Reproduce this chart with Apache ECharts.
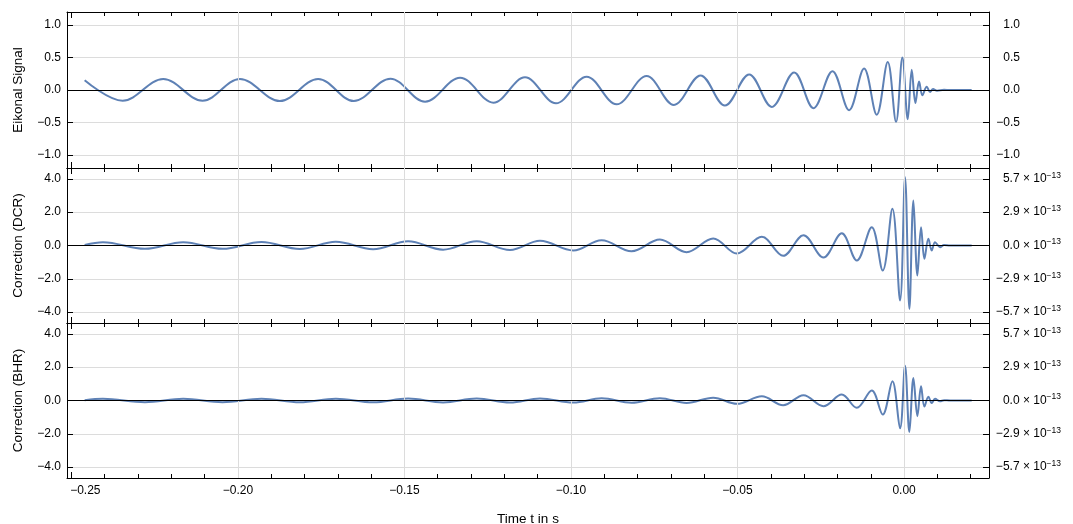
<!DOCTYPE html>
<html><head><meta charset="utf-8">
<script src="https://cdn.jsdelivr.net/npm/echarts@6/dist/echarts.min.js"></script>
<style>html,body{margin:0;padding:0;background:#fff}#c{width:1073px;height:524px}</style>
</head><body><div id="c"></div>
<script>
// Eikonal signal: times (s) of its maxima/minima, plus the flat tail
const tEik = [-0.2460,-0.2346,-0.2224,-0.2106,-0.1994,-0.1874,-0.1759,-0.1652,-0.1542,-0.1438,
  -0.1333,-0.1233,-0.1138,-0.1045,-0.0953,-0.0863,-0.0773,-0.0691,-0.0611,-0.0538,
  -0.0465,-0.0397,-0.0330,-0.0272,-0.0215,-0.0165,-0.0120,-0.0082,-0.0049,-0.0024,
  -0.0005,0.0011,0.0023,0.0034,0.0045,0.0055,0.0068,0.0078,0.0087,0.0099,
  0.0120,0.0138,0.0203];
const eikonal = [0.15,-0.165,0.17,-0.165,0.17,-0.17,0.17,-0.17,0.175,-0.18,
  0.19,-0.195,0.195,-0.205,0.205,-0.22,0.215,-0.23,0.225,-0.24,
  0.24,-0.26,0.27,-0.28,0.29,-0.31,0.33,-0.38,0.43,-0.49,
  0.5,-0.45,0.31,-0.2,0.13,-0.08,0.05,-0.03,0.015,-0.01,
  0.003,0,0];
// Corrections: times (s) of their maxima/minima (shared by DCR and BHR)
const tCorr = [-0.2460,-0.2405,-0.2279,-0.2164,-0.2046,-0.1929,-0.1814,-0.1706,-0.1594,-0.1489,-0.1384,
  -0.1283,-0.1183,-0.1093,-0.0993,-0.0908,-0.0818,-0.0733,-0.0653,-0.0573,-0.0502,
  -0.0427,-0.0363,-0.0302,-0.0242,-0.0187,-0.0142,-0.0097,-0.0064,-0.0035,-0.0012,
  0.0003,0.0016,0.0028,0.0040,0.0051,0.0061,0.0073,0.0083,0.0093,0.0108,
  0.0120,0.0138,0.0203];
const corrDCR = [0.03,0.2,-0.2,0.2,-0.2,0.21,-0.21,0.22,-0.22,0.25,-0.25,
  0.26,-0.27,0.28,-0.3,0.31,-0.34,0.36,-0.4,0.42,-0.48,
  0.52,-0.62,0.62,-0.72,0.74,-0.9,1.1,-1.5,2.2,-3.3,
  4.1,-3.8,2.7,-1.8,1.1,-0.8,0.4,-0.3,0.2,-0.1,
  0.03,0,0];
const corrBHR = [0.02,0.1,-0.1,0.1,-0.1,0.105,-0.105,0.11,-0.11,0.115,-0.115,
  0.12,-0.12,0.125,-0.125,0.13,-0.135,0.14,-0.15,0.17,-0.2,
  0.25,-0.28,0.32,-0.34,0.36,-0.44,0.6,-0.84,1.15,-1.67,
  2.09,-1.89,1.35,-0.94,0.85,-0.36,0.22,-0.15,0.1,-0.05,
  0.02,0,0];

const xTicks = [-0.25,-0.2,-0.15,-0.1,-0.05,0];
const xTickLabels = ['−0.25','−0.20','−0.15','−0.10','−0.05','0.00'];
const gridX = [-0.2,-0.15,-0.1,-0.05,0];
const eikTicks = [-1,-0.5,0,0.5,1];
const eikLabels = ['−1.0','−0.5','0.0','0.5','1.0'];
const corrTicks = [-4,-2,0,2,4];
const corrLabels = ['−4.0','−2.0','0.0','2.0','4.0'];
const corrRightLabels = ['−5.7','−2.9','0.0','2.9','5.7'];
const panelNames = ['Eikonal Signal','Correction (DCR)','Correction (BHR)'];

const FONT = 'Liberation Sans, Arial, Helvetica, sans-serif';
const BLUE = '#5e81b5';
const X_MIN = -0.2513, X_MAX = 0.0255;

function lookup(ticks, labels) {
  return v => { const i = ticks.findIndex(t => Math.abs(t - v) < 1e-6); return i < 0 ? '' : labels[i]; };
}
function xLabel(v) {
  const s = lookup(xTicks, xTickLabels)(v);
  if (!s) return '';
  return Math.abs(v - xTicks[0]) < 1e-6 ? '{first|' + s + '}' : s;
}

const grids = [
  {left: 67, width: 922, top: 12, height: 156, containLabel: false, outerBoundsMode: 'none'},
  {left: 67, width: 922, top: 168, height: 155, containLabel: false, outerBoundsMode: 'none'},
  {left: 67, width: 922, top: 323, height: 155, containLabel: false, outerBoundsMode: 'none'}
];
const yRanges = [[-1.2, 1.2, 0.5], [-4.65, 4.65, 2], [-4.65, 4.65, 2]];
const panelSeries = [[tEik, eikonal], [tCorr, corrDCR], [tCorr, corrBHR]];

const xAxes = [], yAxes = [], series = [];
grids.forEach((g, gi) => {
  const isLast = gi === 2;
  xAxes.push({
    type: 'value', gridIndex: gi, position: 'bottom', min: X_MIN, max: X_MAX,
    minInterval: 0.05, maxInterval: 0.05,
    axisLine: {show: true, onZero: false, lineStyle: {color: '#000', width: 1}},
    axisTick: {show: true, inside: true, length: 6, lineStyle: {color: '#000'}},
    axisLabel: {show: isLast, margin: 7, color: '#000', fontSize: 12, fontFamily: FONT,
      formatter: xLabel,
      rich: {first: {fontSize: 12, fontFamily: FONT, color: '#000', padding: [0, 0, 0, 28]}}},
    splitLine: {show: false},
    name: isLast ? 'Time t in s' : '', nameLocation: 'middle', nameGap: 34,
    nameTextStyle: {color: '#000', fontSize: 13.5, fontFamily: FONT}
  });
  xAxes.push({
    type: 'value', gridIndex: gi, position: 'top', min: X_MIN, max: X_MAX,
    minInterval: 0.05, maxInterval: 0.05,
    axisLine: {show: true, onZero: false, lineStyle: {color: '#000', width: 1}},
    axisTick: {show: true, inside: true, length: 6, lineStyle: {color: '#000'}},
    axisLabel: {show: false}, splitLine: {show: false}
  });
  ['top', 'bottom'].forEach(pos => xAxes.push({
    type: 'value', gridIndex: gi, position: pos, min: X_MIN, max: X_MAX,
    minInterval: 0.01, maxInterval: 0.01,
    axisLine: {show: false, onZero: false},
    axisTick: {show: true, inside: true, length: 4, lineStyle: {color: '#000'}},
    axisLabel: {show: false}, splitLine: {show: false}
  }));
  const [ymin, ymax, yint] = yRanges[gi];
  const ticks = gi === 0 ? eikTicks : corrTicks;
  const labels = gi === 0 ? eikLabels : corrLabels;
  yAxes.push({
    type: 'value', gridIndex: gi, position: 'left', min: ymin, max: ymax,
    minInterval: yint, maxInterval: yint,
    axisLine: {show: true, onZero: false, lineStyle: {color: '#000', width: 1}},
    axisTick: {show: true, inside: true, length: 6, lineStyle: {color: '#000'}},
    axisLabel: {margin: 6, color: '#000', fontSize: 12, fontFamily: FONT, formatter: lookup(ticks, labels)},
    splitLine: {show: true, lineStyle: {color: '#dcdcdc', width: 1}},
    name: panelNames[gi], nameLocation: 'middle', nameGap: 42,
    nameTextStyle: {color: '#000', fontSize: 13.5, fontFamily: FONT}
  });
  const rightLabel = gi === 0
    ? {margin: 31, align: 'right', color: '#000', fontSize: 12, fontFamily: FONT, formatter: lookup(eikTicks, eikLabels)}
    : {margin: 72, align: 'right', color: '#000', fontSize: 12, fontFamily: FONT,
       formatter: v => { const s = lookup(corrTicks, corrRightLabels)(v); return s ? '{n|' + s + ' × 10}{s|−13}' : ''; },
       rich: {
         n: {fontSize: 12, fontFamily: FONT, color: '#000', verticalAlign: 'middle'},
         s: {fontSize: 8.5, fontFamily: FONT, color: '#000', verticalAlign: 'middle', padding: [0, 0, 7, 0]}
       }};
  yAxes.push({
    type: 'value', gridIndex: gi, position: 'right', min: ymin, max: ymax,
    minInterval: yint, maxInterval: yint,
    axisLine: {show: true, onZero: false, lineStyle: {color: '#000', width: 1}},
    axisTick: {show: true, inside: true, length: 6, lineStyle: {color: '#000'}},
    axisLabel: rightLabel,
    splitLine: {show: false}
  });
  series.push({
    type: 'line', xAxisIndex: gi * 4, yAxisIndex: gi * 2, data: [], z: 1, silent: true,
    markLine: {silent: true, symbol: 'none', label: {show: false}, animation: false,
      lineStyle: {color: '#dcdcdc', width: 1, type: 'solid'},
      data: gridX.map(v => ({xAxis: v}))}
  });
  const [ts, vs] = panelSeries[gi];
  series.push({
    type: 'line', xAxisIndex: gi * 4, yAxisIndex: gi * 2, z: 3,
    data: ts.map((t, i) => [t, vs[i]]),
    smooth: 0.36, symbol: 'none', showSymbol: false,
    lineStyle: {color: BLUE, width: 2}, itemStyle: {color: BLUE},
    markLine: {silent: true, symbol: 'none', label: {show: false}, animation: false,
      lineStyle: {color: '#000', width: 1, type: 'solid'},
      data: [{yAxis: 0}]}
  });
});

const chart = echarts.init(document.getElementById('c'), null, {renderer: 'canvas'});
chart.setOption({
  animation: false,
  backgroundColor: '#fff',
  grid: grids,
  xAxis: xAxes,
  yAxis: yAxes,
  series: series
});
</script>
</body></html>
